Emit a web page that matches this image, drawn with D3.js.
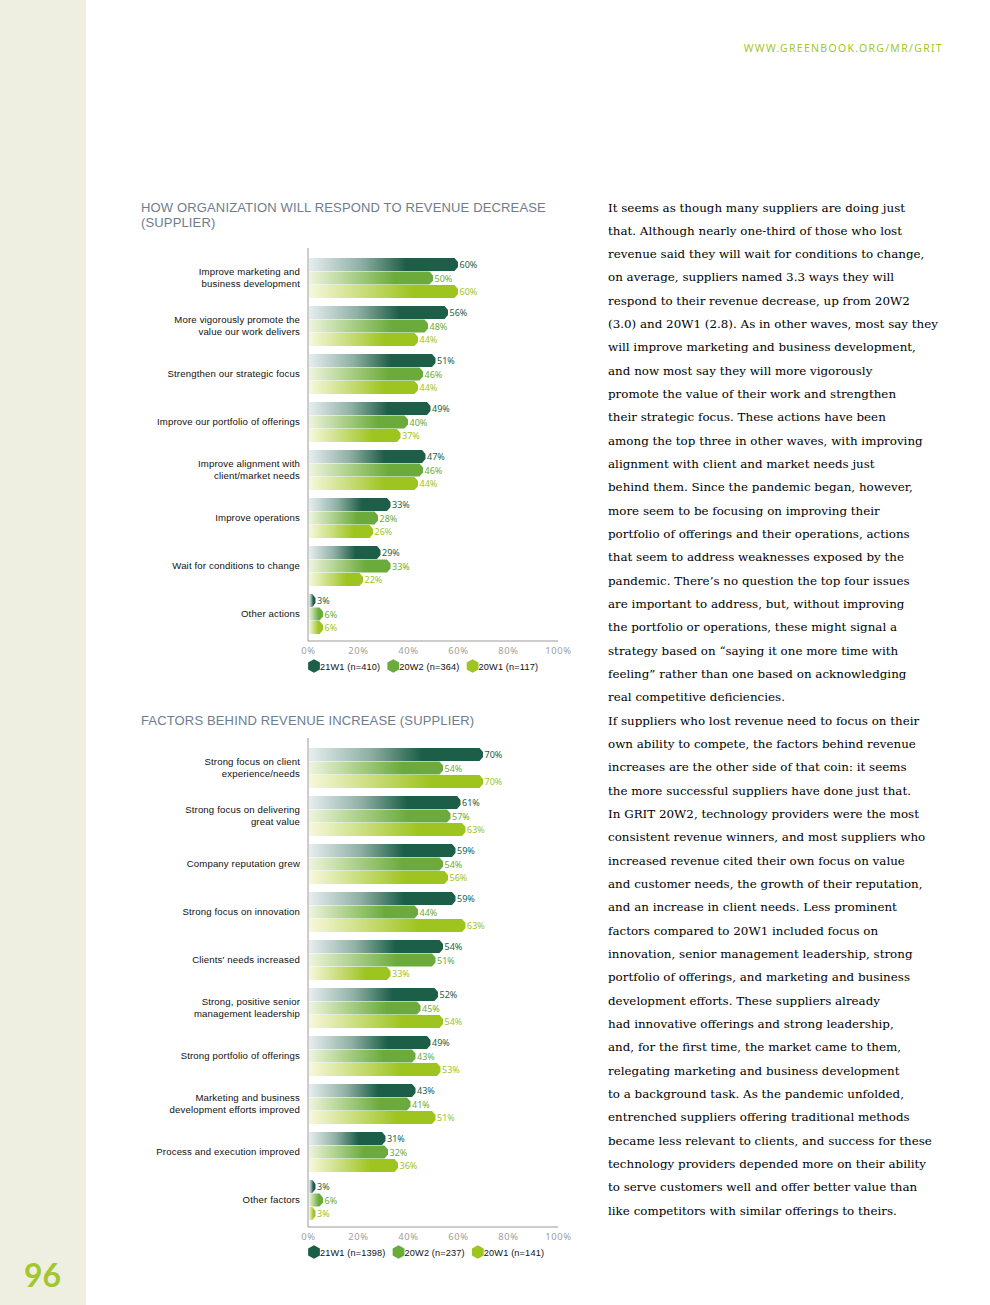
<!DOCTYPE html>
<html>
<head>
<meta charset="utf-8">
<script src="https://cdn.jsdelivr.net/npm/d3@7"></script>
<style>
  body { margin: 0; background: #fff; }
  svg { display: block; }
</style>
</head>
<body>
<div id="page"></div>
<script>
// GRIT report page 96 — two supplier revenue charts + body copy

const seriesNames = ['21W1', '20W2', '20W1'];

// chart 1: response to revenue decrease
const respondCats = [
  ['Improve marketing and', 'business development'],
  ['More vigorously promote the', 'value our work delivers'],
  ['Strengthen our strategic focus'],
  ['Improve our portfolio of offerings'],
  ['Improve alignment with', 'client/market needs'],
  ['Improve operations'],
  ['Wait for conditions to change'],
  ['Other actions']
];
const respond21W1 = [60, 56, 51, 49, 47, 33, 29, 3];
const respond20W2 = [50, 48, 46, 40, 46, 28, 33, 6];
const respond20W1 = [60, 44, 44, 37, 44, 26, 22, 6];
const respondLegend = ['21W1 (n=410)', '20W2 (n=364)', '20W1 (n=117)'];

// chart 2: factors behind revenue increase
const factorCats = [
  ['Strong focus on client', 'experience/needs'],
  ['Strong focus on delivering', 'great value'],
  ['Company reputation grew'],
  ['Strong focus on innovation'],
  ["Clients' needs increased"],
  ['Strong, positive senior', 'management leadership'],
  ['Strong portfolio of offerings'],
  ['Marketing and business', 'development efforts improved'],
  ['Process and execution improved'],
  ['Other factors']
];
const factor21W1 = [70, 61, 59, 59, 54, 52, 49, 43, 31, 3];
const factor20W2 = [54, 57, 54, 44, 51, 45, 43, 41, 32, 6];
const factor20W1 = [70, 63, 56, 63, 33, 54, 53, 51, 36, 3];
const factorLegend = ['21W1 (n=1398)', '20W2 (n=237)', '20W1 (n=141)'];

const xTicks = [0, 20, 40, 60, 80, 100];

const bodyLines = [
  'It seems as though many suppliers are doing just',
  'that. Although nearly one-third of those who lost',
  'revenue said they will wait for conditions to change,',
  'on average, suppliers named 3.3 ways they will',
  'respond to their revenue decrease, up from 20W2',
  '(3.0) and 20W1 (2.8). As in other waves, most say they',
  'will improve marketing and business development,',
  'and now most say they will more vigorously',
  'promote the value of their work and strengthen',
  'their strategic focus. These actions have been',
  'among the top three in other waves, with improving',
  'alignment with client and market needs just',
  'behind them. Since the pandemic began, however,',
  'more seem to be focusing on improving their',
  'portfolio of offerings and their operations, actions',
  'that seem to address weaknesses exposed by the',
  'pandemic. There\u2019s no question the top four issues',
  'are important to address, but, without improving',
  'the portfolio or operations, these might signal a',
  'strategy based on \u201csaying it one more time with',
  'feeling\u201d rather than one based on acknowledging',
  'real competitive deficiencies.',
  'If suppliers who lost revenue need to focus on their',
  'own ability to compete, the factors behind revenue',
  'increases are the other side of that coin: it seems',
  'the more successful suppliers have done just that.',
  'In GRIT 20W2, technology providers were the most',
  'consistent revenue winners, and most suppliers who',
  'increased revenue cited their own focus on value',
  'and customer needs, the growth of their reputation,',
  'and an increase in client needs. Less prominent',
  'factors compared to 20W1 included focus on',
  'innovation, senior management leadership, strong',
  'portfolio of offerings, and marketing and business',
  'development efforts. These suppliers already',
  'had innovative offerings and strong leadership,',
  'and, for the first time, the market came to them,',
  'relegating marketing and business development',
  'to a background task. As the pandemic unfolded,',
  'entrenched suppliers offering traditional methods',
  'became less relevant to clients, and success for these',
  'technology providers depended more on their ability',
  'to serve customers well and offer better value than',
  'like competitors with similar offerings to theirs.'
];

const W = 990, H = 1305;
const colors = ['#1c5e47', '#6aab3b', '#9ec41f'];
const pale = ['#e6edf0', '#eef4dc', '#f7f8dc'];

const svg = d3.select('#page').append('svg').attr('width', W).attr('height', H);

// side strip + page number + url
svg.append('rect').attr('x', 0).attr('y', 0).attr('width', 86).attr('height', H).attr('fill', '#eeeee1');
svg.append('text').attr('x', 24).attr('y', 1287).text('96')
  .attr('font-family', 'Lato, "Noto Sans", sans-serif').attr('font-weight', 700)
  .attr('font-size', 32).attr('fill', '#a3c62f');
svg.append('text').attr('x', 943).attr('y', 52).attr('text-anchor', 'end')
  .text('WWW.GREENBOOK.ORG/MR/GRIT')
  .attr('font-family', '"Noto Sans", sans-serif').attr('font-size', 10.5)
  .attr('letter-spacing', 1.3).attr('fill', '#a3c62f');

// gradients, one per series
const defs = svg.append('defs');
seriesNames.forEach((s, i) => {
  const g = defs.append('linearGradient').attr('id', 'grad' + i);
  if (i === 0) {
    g.append('stop').attr('offset', '0%').attr('stop-color', pale[0]);
    g.append('stop').attr('offset', '35%').attr('stop-color', '#8fb0a4');
    g.append('stop').attr('offset', '65%').attr('stop-color', colors[0]);
    g.append('stop').attr('offset', '100%').attr('stop-color', colors[0]);
  } else {
    g.append('stop').attr('offset', '0%').attr('stop-color', pale[i]);
    g.append('stop').attr('offset', '70%').attr('stop-color', colors[i]);
    g.append('stop').attr('offset', '100%').attr('stop-color', colors[i]);
  }
});

function hexPath(x0, x1, y, h) {
  const t = Math.min(3.5, (x1 - x0) / 2);
  return `M${x0},${y}H${x1 - t}L${x1},${y + 4}V${y + h - 4}L${x1 - t},${y + h}H${x0}Z`;
}

function drawChart(opt) {
  const x = d3.scaleLinear().domain([0, 100]).range([308, 558]);
  const n = opt.cats.length;
  const y = d3.scaleBand().domain(d3.range(n))
    .range([opt.top, opt.top + n * 48]).paddingInner(0).paddingOuter(0);
  const sub = d3.scaleBand().domain(d3.range(3)).range([0, 40.5]);
  const values = [opt.v0, opt.v1, opt.v2];
  const g = svg.append('g');

  // title
  const title = g.append('text').attr('x', 141).attr('y', opt.titleY)
    .attr('font-family', '"Liberation Sans", Arial, sans-serif').attr('font-size', 13)
    .attr('letter-spacing', 0.15).attr('fill', '#6d7d8f');
  opt.title.forEach((t, i) => title.append('tspan').attr('x', 141).attr('dy', i ? 15 : 0).text(t));

  // bars
  opt.cats.forEach((cat, ci) => {
    const gy = y(ci) + 4;
    values.forEach((vals, si) => {
      const by = gy + sub(si);
      g.append('path').attr('d', hexPath(x(0) + 1, x(vals[ci]), by, 13))
        .attr('fill', `url(#grad${si})`);
      g.append('text').attr('x', x(vals[ci]) + 1.5).attr('y', by + 10)
        .text(vals[ci] + '%')
        .attr('font-family', '"Noto Sans", sans-serif').attr('font-size', 9)
        .attr('fill', colors[si]);
    });
    const lbl = g.append('text').attr('text-anchor', 'end')
      .attr('font-family', '"Liberation Sans", Arial, sans-serif').attr('font-size', 9.6)
      .attr('letter-spacing', 0.15).attr('fill', '#111');
    const mid = gy + 20 + 3;
    cat.forEach((line, li) => {
      lbl.append('tspan').attr('x', 300)
        .attr('y', mid + (li - (cat.length - 1) / 2) * 12).text(line);
    });
  });

  // axes
  const bottom = opt.top + n * 48 + 3;
  g.append('line').attr('x1', 308).attr('x2', 308).attr('y1', opt.top - 6).attr('y2', bottom)
    .attr('stroke', '#9a9a9a').attr('stroke-width', 1);
  g.append('line').attr('x1', 308).attr('x2', 558).attr('y1', bottom).attr('y2', bottom)
    .attr('stroke', '#9a9a9a').attr('stroke-width', 1);
  const ax = d3.axisBottom(x).tickValues(xTicks).tickFormat(d => d + '%').tickSize(0).tickPadding(6);
  const axg = g.append('g').attr('transform', `translate(0,${bottom})`).call(ax);
  axg.select('.domain').remove();
  axg.selectAll('text').attr('font-family', '"Noto Sans", sans-serif').attr('font-size', 9.4)
    .attr('letter-spacing', 0.6).attr('fill', '#a0a0a0');

  // legend
  const ly = bottom + 25;
  let lx = 314;
  opt.legend.forEach((t, i) => {
    const r = 6.8;
    const pts = d3.range(6).map(k => {
      const a = Math.PI / 6 + k * Math.PI / 3;
      return [lx + r * Math.cos(a), ly + r * Math.sin(a)];
    });
    g.append('polygon').attr('points', pts.map(p => p.join(',')).join(' ')).attr('fill', colors[i]);
    const tt = g.append('text').attr('x', lx + 6).attr('y', ly + 3.5).text(t)
      .attr('font-family', '"Liberation Sans", Arial, sans-serif').attr('font-size', 9.2)
      .attr('letter-spacing', 0.15).attr('fill', '#111');
    lx += tt.node().getComputedTextLength() + 19;
  });
}

drawChart({
  title: ['HOW ORGANIZATION WILL RESPOND TO REVENUE DECREASE', '(SUPPLIER)'],
  titleY: 212, top: 254, cats: respondCats,
  v0: respond21W1, v1: respond20W2, v2: respond20W1, legend: respondLegend
});
drawChart({
  title: ['FACTORS BEHIND REVENUE INCREASE (SUPPLIER)'],
  titleY: 725, top: 744, cats: factorCats,
  v0: factor21W1, v1: factor20W2, v2: factor20W1, legend: factorLegend
});

// body copy
const body = svg.append('text')
  .attr('font-family', '"DejaVu Serif", serif').attr('font-size', 11.9).attr('fill', '#000');
bodyLines.forEach((line, i) => {
  body.append('tspan').attr('x', 608).attr('y', 211.5 + i * 23.33).text(line);
});
</script>
</body>
</html>
